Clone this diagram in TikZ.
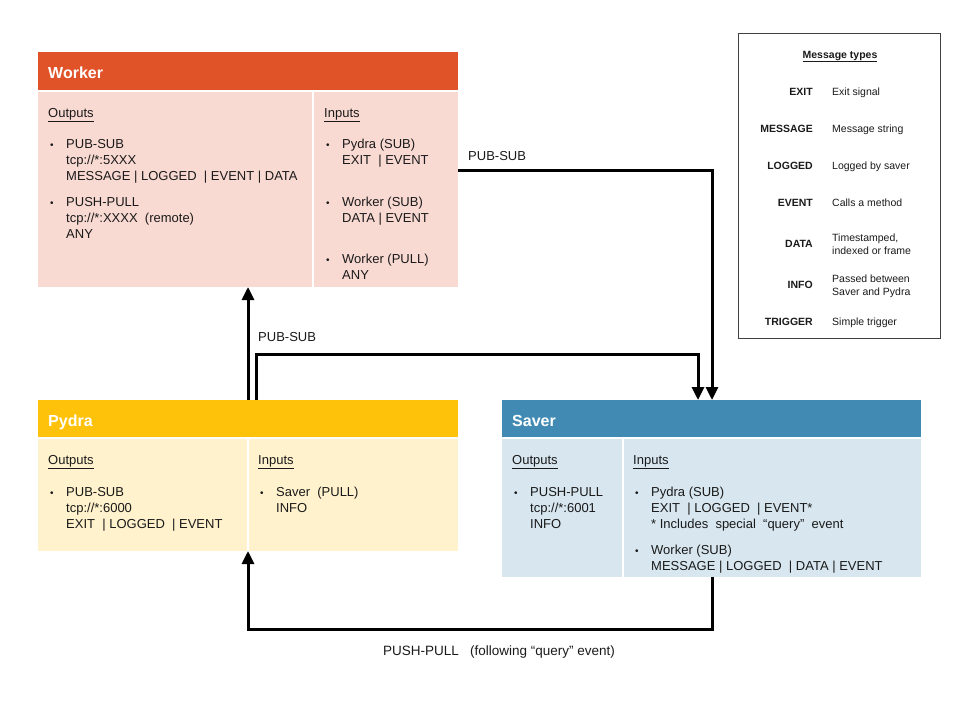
\documentclass[tikz,border=0pt]{standalone}
\usepackage{fontspec}
\setmainfont{Liberation Sans}
\usetikzlibrary{arrows.meta}

\definecolor{workerHead}{HTML}{E05228}
\definecolor{workerBody}{HTML}{F9DAD2}
\definecolor{pydraHead}{HTML}{FFC20A}
\definecolor{pydraBody}{HTML}{FFF2CC}
\definecolor{saverHead}{HTML}{418AB4}
\definecolor{saverBody}{HTML}{D7E6EF}
\definecolor{ink}{HTML}{1A1A1A}

% bulleted entry: bullet column plus lines of text
\newcommand\entry[1]{\begin{tabular}[t]{@{}p{18pt}@{}l@{}}\hspace*{2pt}{\fontsize{10}{10}\selectfont •} & #1\end{tabular}}
\newcommand\twoline[1]{\begin{tabular}[t]{@{}l@{}}#1\end{tabular}}

\begin{document}
\begin{tikzpicture}[x=1pt,y=-1pt,
  panel/.style={anchor=north west, inner sep=0pt, outer sep=0pt, draw=none},
  title/.style={anchor=base west, inner sep=0pt, text=white, font=\fontsize{16}{19}\selectfont\bfseries},
  body/.style={anchor=base west, inner sep=0pt, text=ink, font=\fontsize{13}{16}\selectfont},
  lbl/.style={anchor=base east, inner sep=0pt, text=ink, font=\fontsize{10.5}{13.5}\selectfont\bfseries},
  desc/.style={anchor=base west, inner sep=0pt, text=ink, font=\fontsize{10.5}{13.5}\selectfont},
  divider/.style={draw=white, line width=1.5pt},
  flow/.style={line width=3pt, draw=black, -{Triangle[width=12pt,length=13pt]}}]

\useasboundingbox (0,0) rectangle (960,720);

% ---------------- Worker ----------------
\node[panel, fill=workerHead, minimum width=420pt, minimum height=39pt] (wHead) at (38,52) {};
\node[panel, fill=workerBody, minimum width=420pt, minimum height=196pt] (wBody) at (38,91) {};
\draw[divider] (wBody.north west) -- (wBody.north east);
\draw[divider] (wBody.north -| 313,0) -- (wBody.south -| 313,0);
\node[title] (wTitle) at (48,78) {Worker};
\node[body] (wOutH) at (48,117) {\underline{Outputs}};
\node[body] (wOut1) at (48,148) {\entry{PUB-SUB\\ & tcp://*:5XXX\\ & MESSAGE | LOGGED \ | EVENT | DATA}};
\node[body] (wOut2) at (48,206) {\entry{PUSH-PULL\\ & tcp://*:XXXX \ (remote)\\ & ANY}};
\node[body] (wInH) at (324,117) {\underline{Inputs}};
\node[body] (wIn1) at (324,148) {\entry{Pydra (SUB)\\ & EXIT \ | EVENT}};
\node[body] (wIn2) at (324,206) {\entry{Worker (SUB)\\ & DATA | EVENT}};
\node[body] (wIn3) at (324,263) {\entry{Worker (PULL)\\ & ANY}};

% ---------------- Pydra ----------------
\node[panel, fill=pydraHead, minimum width=420pt, minimum height=38pt] (pHead) at (38,400) {};
\node[panel, fill=pydraBody, minimum width=420pt, minimum height=113pt] (pBody) at (38,438) {};
\draw[divider] (pBody.north west) -- (pBody.north east);
\draw[divider] (pBody.north -| 248,0) -- (pBody.south -| 248,0);
\node[title] (pTitle) at (48,426) {Pydra};
\node[body] (pOutH) at (48,464) {\underline{Outputs}};
\node[body] (pOut1) at (48,496) {\entry{PUB-SUB\\ & tcp://*:6000\\ & EXIT \ | LOGGED \ | EVENT}};
\node[body] (pInH) at (258,464) {\underline{Inputs}};
\node[body] (pIn1) at (258,496) {\entry{Saver \ (PULL)\\ & INFO}};

% ---------------- Saver ----------------
\node[panel, fill=saverHead, minimum width=419pt, minimum height=38pt] (sHead) at (502,400) {};
\node[panel, fill=saverBody, minimum width=419pt, minimum height=139pt] (sBody) at (502,438) {};
\draw[divider] (sBody.north west) -- (sBody.north east);
\draw[divider] (sBody.north -| 623,0) -- (sBody.south -| 623,0);
\node[title] (sTitle) at (512,426) {Saver};
\node[body] (sOutH) at (512,464) {\underline{Outputs}};
\node[body] (sOut1) at (512,496) {\entry{PUSH-PULL\\ & tcp://*:6001\\ & INFO}};
\node[body] (sInH) at (633,464) {\underline{Inputs}};
\node[body] (sIn1) at (633,496) {\entry{Pydra (SUB)\\ & EXIT \ | LOGGED \ | EVENT*\\ & * Includes \ special \ “query” \ event}};
\node[body] (sIn2) at (633,554) {\entry{Worker (SUB)\\ & MESSAGE | LOGGED \ | DATA | EVENT}};

% ---------------- Legend ----------------
\node[panel, draw=black!75, line width=1pt, minimum width=202pt, minimum height=305pt] (legend) at (738,33) {};
\node[anchor=base, inner sep=0pt, text=ink, font=\fontsize{10.5}{13.5}\selectfont\bfseries] (legTitle) at (840,58) {\underline{Message types}};
\node[lbl] (kExit) at (813,95) {EXIT};
\node[desc] (dExit) at (832,95) {Exit signal};
\node[lbl] (kMsg) at (813,132) {MESSAGE};
\node[desc] (dMsg) at (832,132) {Message string};
\node[lbl] (kLog) at (813,169) {LOGGED};
\node[desc] (dLog) at (832,169) {Logged by saver};
\node[lbl] (kEvt) at (813,206) {EVENT};
\node[desc] (dEvt) at (832,206) {Calls a method};
\node[lbl] (kData) at (813,247) {DATA};
\node[desc] (dData) at (832,241) {\twoline{Timestamped,\\ indexed or frame}};
\node[lbl] (kInfo) at (813,288) {INFO};
\node[desc] (dInfo) at (832,282) {\twoline{Passed between\\ Saver and Pydra}};
\node[lbl] (kTrig) at (813,325) {TRIGGER};
\node[desc] (dTrig) at (832,325) {Simple trigger};

% ---------------- Connectors ----------------
% Worker publishes to Saver
\draw[flow] (wBody.east |- 0,170) -| (sHead.north -| 712,0);
\node[body] (lblWS) at (468,160) {PUB-SUB};
% Pydra publishes to Worker
\draw[flow] (pHead.north -| 248,0) -- (wBody.south -| 248,0);
\node[body] (lblPW) at (258,341) {PUB-SUB};
% Pydra publishes to Saver
\draw[flow] (pHead.north -| 256,0) -- ++(0,-46) -| (sHead.north -| 698,0);
% Saver pushes info back to Pydra
\draw[flow] (sBody.south -| 712,0) -- ++(0,52) -| (pBody.south -| 248,0);
\node[anchor=base, inner sep=0pt, text=ink, font=\fontsize{13.5}{16}\selectfont] (lblSP) at (499,655) {PUSH-PULL \ \ (following “query” event)};

\end{tikzpicture}
\end{document}
